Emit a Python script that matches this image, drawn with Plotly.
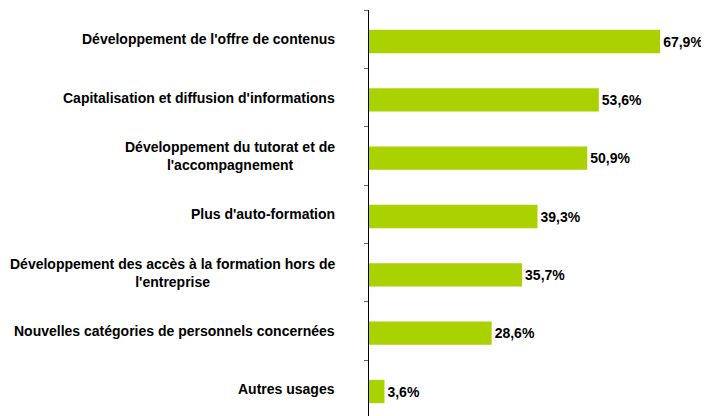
import plotly.graph_objects as go

categories = [
    "Développement de l'offre de contenus",
    "Capitalisation et diffusion d'informations",
    "Développement du tutorat et de<br>l'accompagnement",
    "Plus d'auto-formation",
    "Développement des accès à la formation hors de<br>l'entreprise",
    "Nouvelles catégories de personnels concernées",
    "Autres usages",
]
values = [67.9, 53.6, 50.9, 39.3, 35.7, 28.6, 3.6]
value_labels = [f"{v:.1f}%".replace(".", ",") for v in values]

FONT = "Liberation Sans, Arial, sans-serif"

fig = go.Figure(
    go.Bar(
        y=categories,
        x=values,
        orientation="h",
        marker=dict(color="#A9D200", line=dict(width=0)),
        width=0.4,
        offset=-0.16,
        text=value_labels,
        textposition="outside",
        textfont=dict(family=FONT, size=14, color="#000000", weight="bold"),
        cliponaxis=False,
        hoverinfo="skip",
    )
)

# category labels, right-aligned left of the axis, multi-line labels centred
for cat in categories:
    fig.add_annotation(
        x=0, xref="paper", xanchor="right", xshift=-32,
        y=cat, yref="y", yanchor="middle",
        text=cat, showarrow=False, align="center",
        font=dict(family=FONT, size=14, color="#000000", weight="bold"),
    )

# the page body has an 8px default margin, so the figure is drawn 8px smaller
fig.update_layout(
    width=701,
    height=408,
    margin=dict(l=361, r=9, t=2, b=0, autoexpand=False),
    paper_bgcolor="white",
    plot_bgcolor="white",
    showlegend=False,
    font=dict(family=FONT, color="#000000"),
)
fig.update_xaxes(
    range=[0, 77.2],
    showline=False,
    showgrid=False,
    zeroline=False,
    showticklabels=False,
    ticks="",
)
fig.update_yaxes(
    type="category",
    range=[6.46, -0.5],
    showline=True,
    linecolor="#000000",
    linewidth=1,
    ticks="outside",
    ticklen=4,
    tickcolor="#666655",
    tickson="boundaries",
    showticklabels=False,
    showgrid=False,
    zeroline=False,
    automargin=False,
)

fig.write_html("out.html")
